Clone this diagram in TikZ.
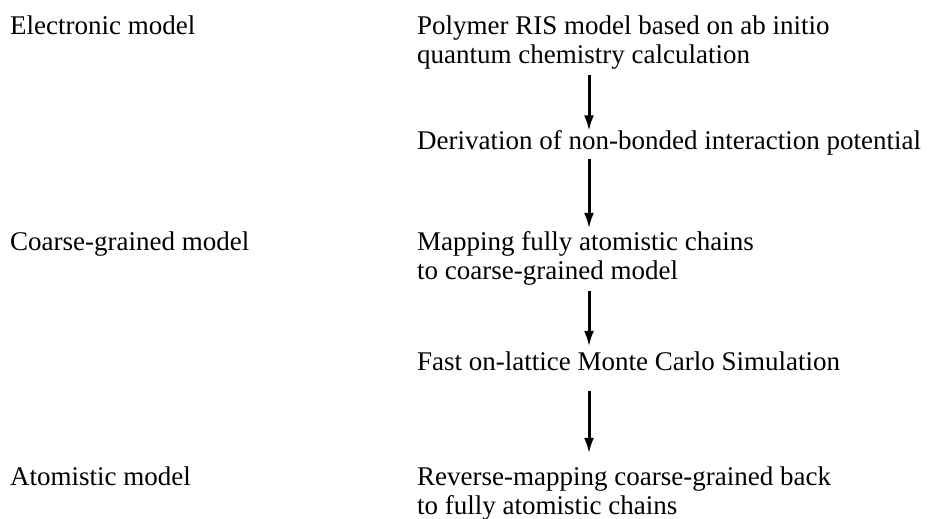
\documentclass[tikz,border=0pt]{standalone}
\usepackage{fontspec}
\setmainfont{Liberation Serif}
\usetikzlibrary{arrows.meta,calc}
\begin{document}
\begin{tikzpicture}[x=1pt,y=1pt,
  lbl/.style={anchor=base west, inner sep=0pt, font=\fontsize{27}{28.5}\selectfont},
  arr/.style={line width=3pt, -{Latex[length=16pt,width=10pt]}}]
\useasboundingbox (0,0) rectangle (935,-519);
\coordinate (ax) at (589,0);
% left column
\node[lbl] (el) at (10,-35) {\begin{tabular}[t]{@{}l@{}}Electronic model\end{tabular}};
\node[lbl] (cg) at (10,-250.7) {\begin{tabular}[t]{@{}l@{}}Coarse-grained model\end{tabular}};
\node[lbl] (at) at (10,-485.7) {\begin{tabular}[t]{@{}l@{}}Atomistic model\end{tabular}};
% right column
\node[lbl] (s1) at (417,-35) {\begin{tabular}[t]{@{}l@{}}Polymer RIS model based on ab initio\\quantum chemistry calculation\end{tabular}};
\node[lbl] (s2) at (417,-149) {\begin{tabular}[t]{@{}l@{}}Derivation of non-bonded interaction potential\end{tabular}};
\node[lbl] (s3) at (417,-250.7) {\begin{tabular}[t]{@{}l@{}}Mapping fully atomistic chains\\to coarse-grained model\end{tabular}};
\node[lbl] (s4) at (417,-370.7) {\begin{tabular}[t]{@{}l@{}}Fast on-lattice Monte Carlo Simulation\end{tabular}};
\node[lbl] (s5) at (417,-485.7) {\begin{tabular}[t]{@{}l@{}}Reverse-mapping coarse-grained back\\to fully atomistic chains\end{tabular}};
% arrows
\draw[arr] ($(s1.south -| ax)+(0,-2.95)$) -- ($(s2.north -| ax)+(0,-2.45)$);
\draw[arr] ($(s2.south -| ax)+(0,-1.45)$) -- ($(s3.north -| ax)+(0,1.75)$);
\draw[arr] ($(s3.south -| ax)+(0,-2.95)$) -- ($(s4.north -| ax)+(0,3.75)$);
\draw[arr] ($(s4.south -| ax)+(0,-11.45)$) -- ($(s5.north -| ax)+(0,11.75)$);
\end{tikzpicture}
\end{document}
